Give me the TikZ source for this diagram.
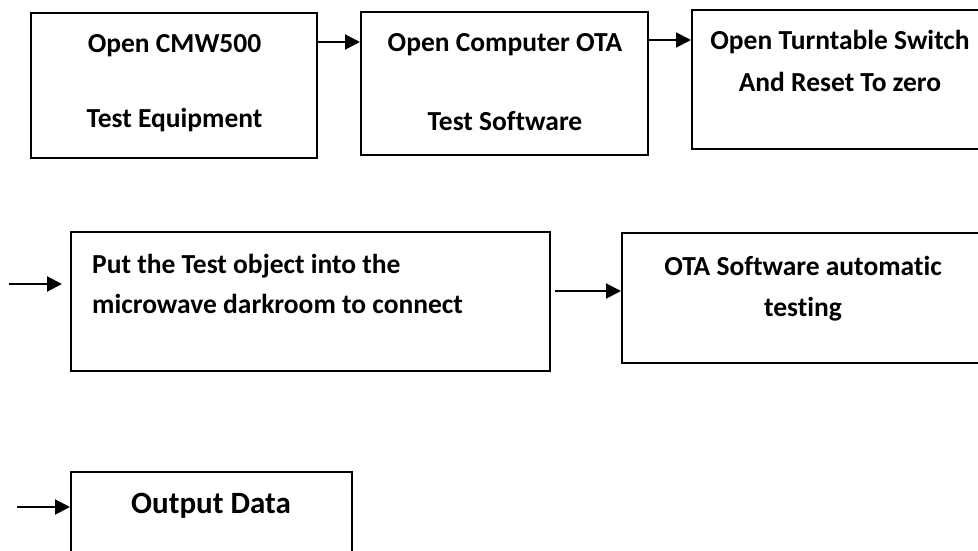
\documentclass[tikz,border=0pt]{standalone}
\usepackage{fontspec}
\setmainfont{Carlito}[Ligatures=NoCommon]
\usetikzlibrary{arrows.meta}
\begin{document}
\begin{tikzpicture}[x=1pt,y=-1pt,
  box/.style={draw=black,line width=2pt,inner sep=0pt,rectangle},
  lbl/.style={font=\fontsize{27.5}{33}\selectfont\bfseries,inner sep=0pt,anchor=base},
  lbll/.style={lbl,anchor=base west},
  arr/.style={line width=2pt,-{Triangle[length=15pt,width=15pt]}}]
\useasboundingbox (0,0) rectangle (978,551);
\clip (0,0) rectangle (978,551);
% boxes
\node[box,minimum width=286pt,minimum height=145pt] (b1) at (174,85.5) {};
\node[box,minimum width=287pt,minimum height=143pt] (b2) at (504.5,83.5) {};
\node[box,minimum width=320pt,minimum height=139pt] (b3) at (852,79.5) {};
\node[box,minimum width=479pt,minimum height=139pt] (b4) at (310.5,301.5) {};
\node[box,minimum width=400pt,minimum height=130pt] (b5) at (822,298) {};
\node[box,minimum width=281pt,minimum height=120pt] (b6) at (211.5,532) {};
% texts
\node[lbl] (t1a) at (174.5,53) {Open CMW500};
\node[lbl] (t1b) at (174.5,128) {Test Equipment};
\node[lbl] (t2a) at (505,52) {Open Computer OTA};
\node[lbl] (t2b) at (505,130) {Test Software};
\node[lbl] (t3a) at (840,50) {Open Turntable Switch};
\node[lbl] (t3b) at (840,92) {And Reset To zero};
\node[lbll] (t4a) at (92,273) {Put the Test object into the};
\node[lbll] (t4b) at (92,313) {microwave darkroom to connect};
\node[lbl] (t5a) at (803,275) {OTA Software automatic};
\node[lbl] (t5b) at (803,316) {testing};
\node[lbl,font=\fontsize{31}{36}\selectfont\bfseries] (t6) at (211,513) {Output Data};
% connectors
\coordinate (in4) at (9,284);
\coordinate (in6) at (17,507);
\draw[arr] (b1.east |- 0,42) -- (b2.west |- 0,42);
\draw[arr] (b2.east |- 0,40) -- (b3.west |- 0,40);
\draw[arr,shorten >=8pt] (in4) -- (b4.west |- in4);
\draw[arr,shorten <=4pt] (b4.east |- 0,291) -- (b5.west |- 0,291);
\draw[arr] (in6) -- (b6.west |- in6);
\end{tikzpicture}
\end{document}
